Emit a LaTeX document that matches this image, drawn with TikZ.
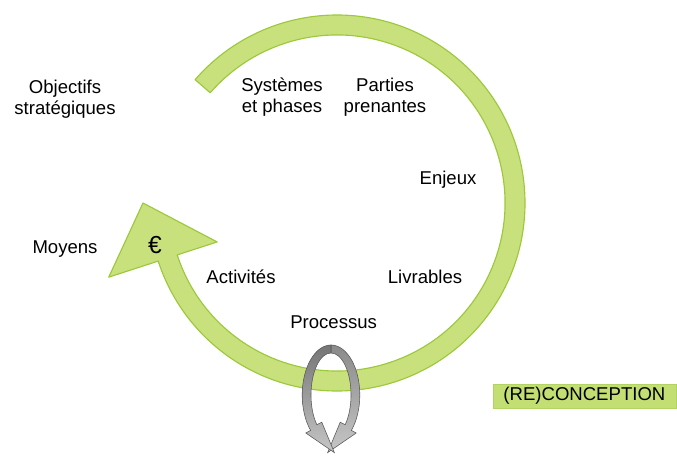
\documentclass[tikz,border=0pt]{standalone}
\usepackage{fontspec}
\setmainfont{Liberation Sans}
\definecolor{ringgreen}{HTML}{C8E17C}
\definecolor{ringedge}{HTML}{9CC83C}
\definecolor{boxgreen}{HTML}{C3DE72}
\definecolor{loopdark}{HTML}{8A8A8A}
\definecolor{looplight}{HTML}{C6C6C6}
\begin{document}
\begin{tikzpicture}[every node/.style={font=\fontsize{13.2}{15}\selectfont,align=center,inner sep=0pt},
  ring/.style={fill=ringgreen,draw=ringedge,line width=0.8pt,line join=round},
  loophalf/.style={top color=loopdark,bottom color=looplight,draw=gray!70!black,line width=0.4pt}]
 \useasboundingbox (0,0) rectangle (16.925,11.425);

 % cycle with arrow
 \begin{scope}[shift={(8.425,6.35)}]
  \draw[ring] (139:4.7) arc[start angle=139,end angle=-162,radius=4.7]
   -- (198:6.0) -- (180:4.85) -- (198:3.15) -- (198:4.2)
   arc[start angle=-162,end angle=139,radius=4.2] -- cycle;
 \end{scope}

 % turning loop under Processus
 \begin{scope}[shift={(8.275,1.55)}]
  \draw[loophalf] (0,1.25) arc[start angle=90,end angle=-45,x radius=0.72,y radius=1.25]
   -- (0.63,-0.95) -- (-0.084,-1.44) -- (0.23,-0.68) -- (0.354,-0.742)
   arc[start angle=-45,end angle=90,x radius=0.5,y radius=1.05] -- cycle;
  \draw[loophalf,top color=loopdark!85!black] (0,1.25) arc[start angle=90,end angle=225,x radius=0.72,y radius=1.25]
   -- (-0.63,-0.95) -- (0.084,-1.44) -- (-0.23,-0.68) -- (-0.354,-0.742)
   arc[start angle=225,end angle=90,x radius=0.5,y radius=1.05] -- cycle;
 \end{scope}

 \node (obj) at (1.625,8.95) {Objectifs\\strat\'egiques};
 \node (sys) at (7.05,9.0) {Syst\`emes\\et phases};
 \node (part) at (9.625,9.0) {Parties\\prenantes};
 \node[anchor=base] (enj) at (11.2,6.825) {Enjeux};
 \node[anchor=base] (moy) at (1.625,5.1) {Moyens};
 \node[anchor=base,font=\fontsize{17.5}{18}\selectfont] (eur) at (3.875,5.1) {€};
 \node[anchor=base] (act) at (6.025,4.35) {Activit\'es};
 \node[anchor=base] (liv) at (10.625,4.35) {Livrables};
 \node[anchor=base] (proc) at (8.34,3.225) {Processus};
 \node[fill=boxgreen,draw=ringedge!80,minimum width=4.575cm,minimum height=0.6cm] (recon) at (14.61,1.525) {(RE)CONCEPTION};
\end{tikzpicture}
\end{document}
